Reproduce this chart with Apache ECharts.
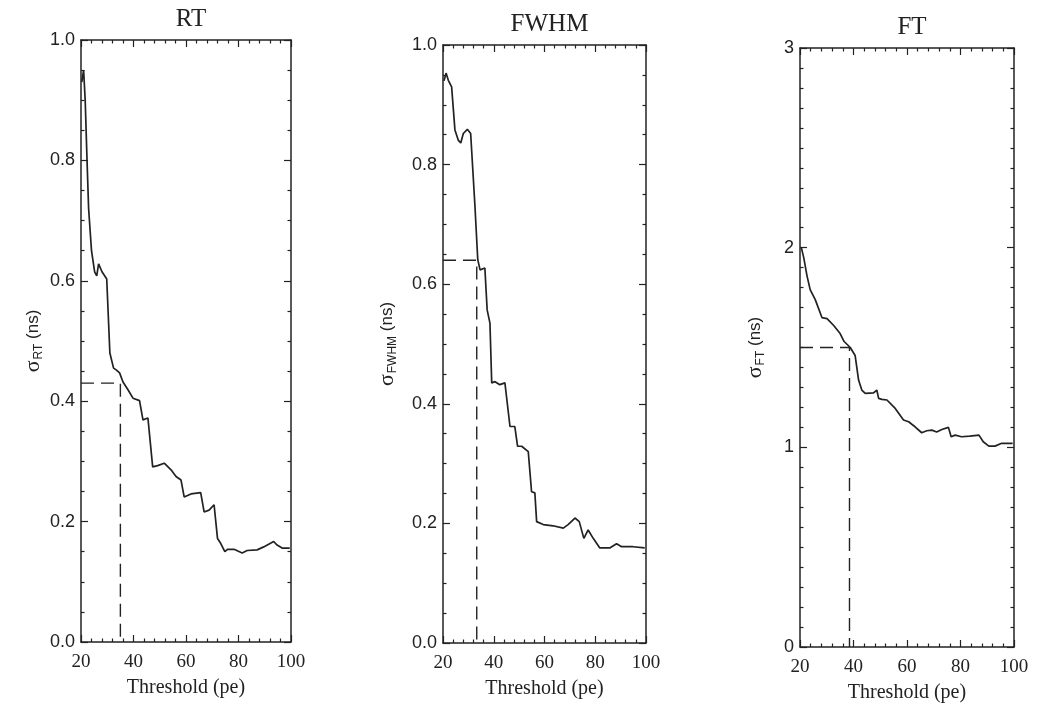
<!DOCTYPE html>
<html>
<head>
<meta charset="utf-8">
<script src="https://cdn.jsdelivr.net/npm/echarts@6/dist/echarts.min.js"></script>
<style>
  html, body { margin: 0; padding: 0; background: #fff; }
  #chart { width: 1038px; height: 708px; }
</style>
</head>
<body>
<div id="chart"></div>
<script>
// panel titles and axis names
var titles = ["RT", "FWHM", "FT"];
var subs = ["RT", "FWHM", "FT"];
var xLabel = "Threshold (pe)";

// sigma vs threshold
var rtCurve = [[20.3,0.93],[21,0.95],[21.6,0.9],[22.3,0.8],[22.9,0.72],[24,0.65],[25.2,0.615],[26,0.608],[26.7,0.628],[28,0.615],[29.8,0.603],[31,0.48],[32.4,0.455],[33.4,0.452],[34.7,0.447],[36,0.432],[37.9,0.419],[39.8,0.405],[42.3,0.401],[43.6,0.369],[45.5,0.372],[47.3,0.291],[49.2,0.293],[51.7,0.297],[54.3,0.286],[56.2,0.275],[58.1,0.269],[59.3,0.241],[61.9,0.246],[65.6,0.248],[66.9,0.216],[68.8,0.219],[70.7,0.228],[72,0.172],[73.2,0.164],[74.8,0.15],[75.8,0.154],[78.3,0.154],[81.4,0.148],[83.3,0.152],[87.1,0.153],[89.6,0.158],[93.4,0.167],[94.7,0.161],[96.6,0.156],[99.5,0.156]];
var fwhmCurve = [[20.4,0.94],[21.2,0.953],[22.1,0.941],[23.4,0.93],[24.7,0.858],[26,0.841],[27,0.836],[28,0.852],[29.6,0.859],[30.9,0.852],[32.6,0.73],[33.7,0.641],[34.6,0.624],[36.5,0.627],[37.4,0.557],[38.5,0.535],[39.2,0.435],[40.5,0.437],[42.4,0.432],[44.4,0.435],[46.4,0.362],[48.3,0.362],[49.4,0.329],[51,0.329],[53.6,0.32],[54.9,0.253],[56.2,0.251],[56.9,0.203],[59.5,0.198],[63.4,0.196],[67.4,0.192],[69.3,0.198],[72,0.209],[73.7,0.203],[75.5,0.175],[77.2,0.189],[79.2,0.175],[81.8,0.159],[85.7,0.159],[88.4,0.166],[90.4,0.161],[94.9,0.161],[99.5,0.159]];
var ftCurve = [[20.5,2.0],[21.4,1.95],[22.6,1.86],[23.8,1.79],[25.7,1.74],[28.2,1.65],[30.1,1.645],[32.6,1.61],[35,1.57],[36.5,1.53],[38.8,1.5],[40.6,1.46],[41.9,1.337],[43.1,1.287],[44.4,1.27],[47.5,1.273],[48.7,1.287],[49.4,1.245],[50.6,1.24],[52.5,1.237],[55.6,1.195],[58.7,1.137],[60.6,1.128],[63,1.103],[65.5,1.073],[67.4,1.083],[69.3,1.086],[71.1,1.077],[73,1.089],[75.5,1.1],[76.5,1.053],[78,1.061],[80.4,1.053],[83.5,1.056],[86.9,1.061],[88.5,1.028],[90.6,1.006],[92.9,1.006],[95.4,1.02],[99.5,1.02]];

// dashed cut lines
var rtCut = [[20,0.43],[35,0.43],[35,0]];
var fwhmCut = [[20,0.64],[33.3,0.64],[33.3,0]];
var ftCut = [[20,1.5],[38.5,1.5],[38.5,0]];

// y scales
var yMax = [1, 1, 3];
var yStep = [0.2, 0.2, 1];
var yMinor = [4, 4, 10];
var yDigits = [1, 1, 0];

var grids = [
  { left: 81, top: 40, width: 210, height: 602 },
  { left: 443, top: 45, width: 203, height: 598 },
  { left: 800, top: 48, width: 214, height: 599 }
];
var namePos = [35, 43, 32];

var ink = "#222";
var serif = "Liberation Serif";
var sans = "Liberation Sans";

var myChart = echarts.init(document.getElementById("chart"));

var xAxes = [], yAxes = [], series = [], titleList = [];
var curves = [rtCurve, fwhmCurve, ftCurve];
var cuts = [rtCut, fwhmCut, ftCut];

for (var i = 0; i < 3; i++) {
  var g = grids[i];
  titleList.push({
    text: titles[i],
    left: g.left + g.width / 2,
    top: g.top - 38,
    textAlign: "center",
    textStyle: { fontFamily: serif, fontWeight: "normal", fontSize: 25, color: ink }
  });
  var tick = { show: true, inside: true, length: 7, lineStyle: { color: ink, width: 1.2 } };
  var minor = { show: true, length: 3.5, lineStyle: { color: ink, width: 1.2 } };
  var line = { show: true, onZero: false, lineStyle: { color: ink, width: 1.5 } };
  xAxes.push({
    type: "value", gridIndex: i, position: "bottom", min: 20, max: 100, interval: 20,
    axisLine: line, axisTick: tick, minorTick: Object.assign({ splitNumber: 5 }, minor),
    splitLine: { show: false },
    axisLabel: { fontFamily: serif, fontSize: 19, color: ink, margin: 11 },
    name: xLabel, nameLocation: "middle", nameGap: 36,
    nameTextStyle: { fontFamily: serif, fontSize: 20, color: ink }
  });
  xAxes.push({
    type: "value", gridIndex: i, position: "top", min: 20, max: 100, interval: 20,
    axisLine: line, axisTick: tick, minorTick: Object.assign({ splitNumber: 5 }, minor),
    splitLine: { show: false }, axisLabel: { show: false }
  });
  (function (d) {
    yAxes.push({
      type: "value", gridIndex: i, position: "left", min: 0, max: yMax[i], interval: yStep[i],
      axisLine: line, axisTick: tick, minorTick: Object.assign({ splitNumber: yMinor[i] }, minor),
      splitLine: { show: false },
      axisLabel: { fontFamily: sans, fontSize: 18, color: ink, margin: 6,
        formatter: function (v) { return v.toFixed(d); } },
      name: "{s|σ}{b|" + subs[i] + "}{n| (ns)}", nameLocation: "middle", nameGap: namePos[i],
      nameTextStyle: {
        color: ink, fontFamily: sans,
        rich: {
          s: { fontSize: 22, fontFamily: serif, color: ink, lineHeight: 26, verticalAlign: "middle" },
          b: { fontSize: 12, fontFamily: sans, color: ink, lineHeight: 12, verticalAlign: "bottom", padding: [0, 0, 1, 1] },
          n: { fontSize: 17, fontFamily: sans, color: ink, lineHeight: 26, verticalAlign: "middle" }
        }
      }
    });
  })(yDigits[i]);
  yAxes.push({
    type: "value", gridIndex: i, position: "right", min: 0, max: yMax[i], interval: yStep[i],
    axisLine: line, axisTick: tick, minorTick: Object.assign({ splitNumber: yMinor[i] }, minor),
    splitLine: { show: false }, axisLabel: { show: false }
  });
  series.push({
    type: "line", xAxisIndex: i * 2, yAxisIndex: i * 2, data: curves[i],
    showSymbol: false, silent: true, lineStyle: { color: ink, width: 1.7 }
  });
  series.push({
    type: "line", xAxisIndex: i * 2, yAxisIndex: i * 2, data: cuts[i],
    showSymbol: false, silent: true,
    lineStyle: { color: ink, width: 1.4, type: [13, 7] }
  });
}

var option = {
  backgroundColor: "#fff",
  animation: false,
  title: titleList,
  grid: grids,
  xAxis: xAxes,
  yAxis: yAxes,
  series: series
};
myChart.setOption(option);
</script>
</body>
</html>
